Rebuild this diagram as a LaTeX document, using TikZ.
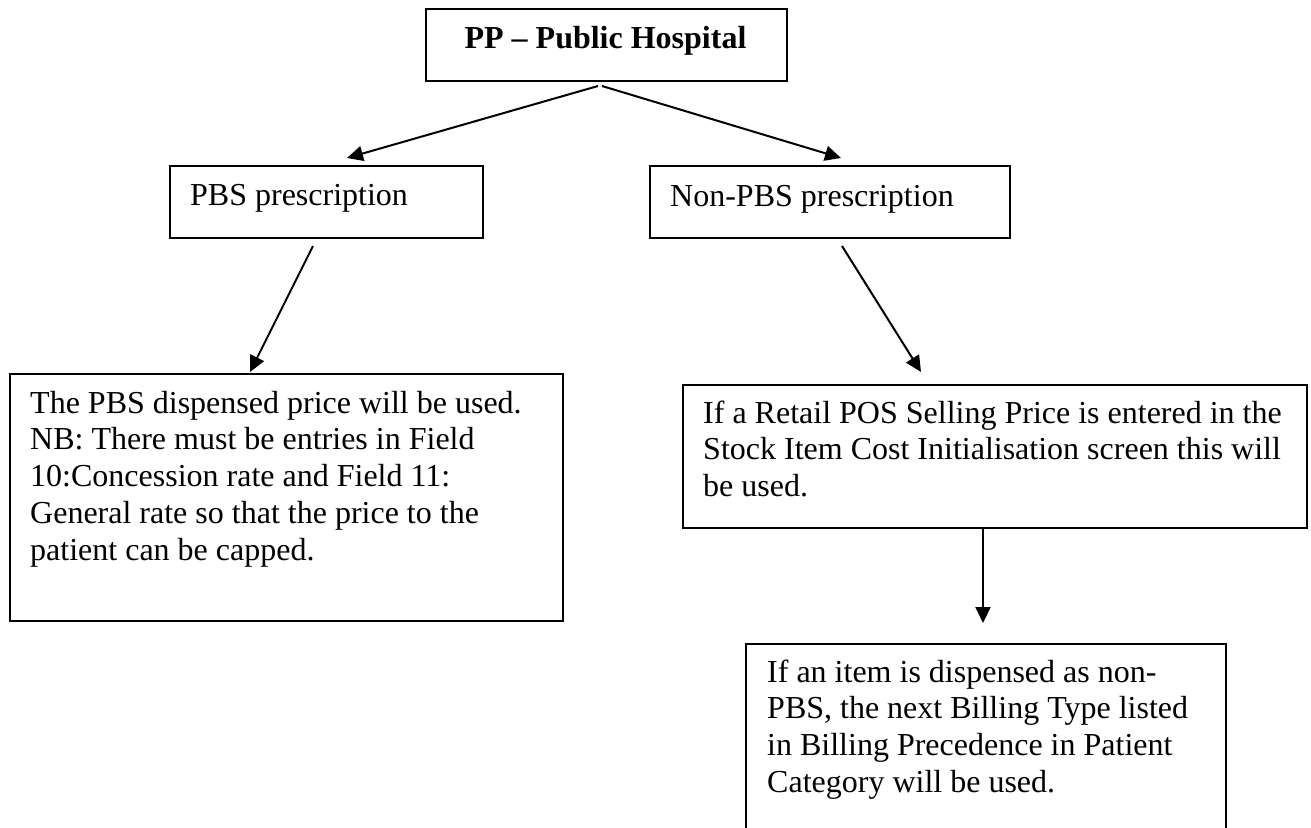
\documentclass[tikz,border=0pt]{standalone}
\usepackage{fontspec}
\setmainfont{Liberation Serif}
\usetikzlibrary{arrows.meta}
\tikzset{
  box/.style={draw=black, line width=1.6pt, inner sep=0pt, anchor=north west},
  bodytext/.style={inner sep=0pt, anchor=north west, align=left,
    font=\fontsize{32pt}{36.7pt}\selectfont},
  linetext/.style={inner sep=0pt, anchor=base west,
    font=\fontsize{32pt}{36.7pt}\selectfont},
  conn/.style={line width=2pt, -{Triangle[length=16pt,width=15pt]}},
}
% sets the height of the first line so its baseline lies 26pt below the node top
\newcommand{\firstline}{\rule{0pt}{26pt}}

\begin{document}
\begin{tikzpicture}[x=1pt,y=-1pt]
\useasboundingbox (0,0) rectangle (1311,827);
\clip (0,0) rectangle (1311,827);

% boxes
\node[box, minimum width=361pt, minimum height=72pt]  (top)      at (425,8)   {};
\node[box, minimum width=313pt, minimum height=72pt]  (pbs)      at (169,165) {};
\node[box, minimum width=360pt, minimum height=72pt]  (npbs)     at (649,165) {};
\node[box, minimum width=553pt, minimum height=247pt] (pbsrule)  at (9,373)   {};
\node[box, minimum width=624pt, minimum height=143pt] (posrule)  at (682,384) {};
\node[box, minimum width=480pt, minimum height=220pt] (nextrule) at (745,643) {};

% texts
\node[linetext, anchor=base, font=\fontsize{32pt}{36.7pt}\selectfont\bfseries]
  (toptext) at (605.5,48) {PP – Public Hospital};
\node[linetext] (pbstext)  at (190,205) {PBS prescription};
\node[linetext] (npbstext) at (670,206) {Non-PBS prescription};
\node[bodytext] (pbsruletext) at (30,387) {\firstline The PBS dispensed price will be used.\\
NB: There must be entries in Field\\
10:Concession rate and Field 11:\\
General rate so that the price to the\\
patient can be capped.};
\node[bodytext] (posruletext) at (703,397) {\firstline If a Retail POS Selling Price is entered in the\\
Stock Item Cost Initialisation screen this will\\
be used.};
\node[bodytext] (nextruletext) at (767,656) {\firstline If an item is dispensed as non-\\
PBS, the next Billing Type listed\\
in Billing Precedence in Patient\\
Category will be used.};

% connector end points
\coordinate (splitL)  at (598,86);
\coordinate (splitR)  at (602,86);
\coordinate (pbsin)   at (347,158);
\coordinate (npbsin)  at (841,158);
\coordinate (pbsout)  at (313,246);
\coordinate (pbsrulein) at (250,372);
\coordinate (npbsout) at (842,246);
\coordinate (posrulein) at (921,372);
\coordinate (posruleout) at (983,527);
\coordinate (nextrulein) at (983,623);

% connectors
\draw[conn] (splitL) -- (pbsin);
\draw[conn] (splitR) -- (npbsin);
\draw[conn] (pbsout) -- (pbsrulein);
\draw[conn] (npbsout) -- (posrulein);
\draw[conn] (posruleout) -- (nextrulein);
\end{tikzpicture}
\end{document}
